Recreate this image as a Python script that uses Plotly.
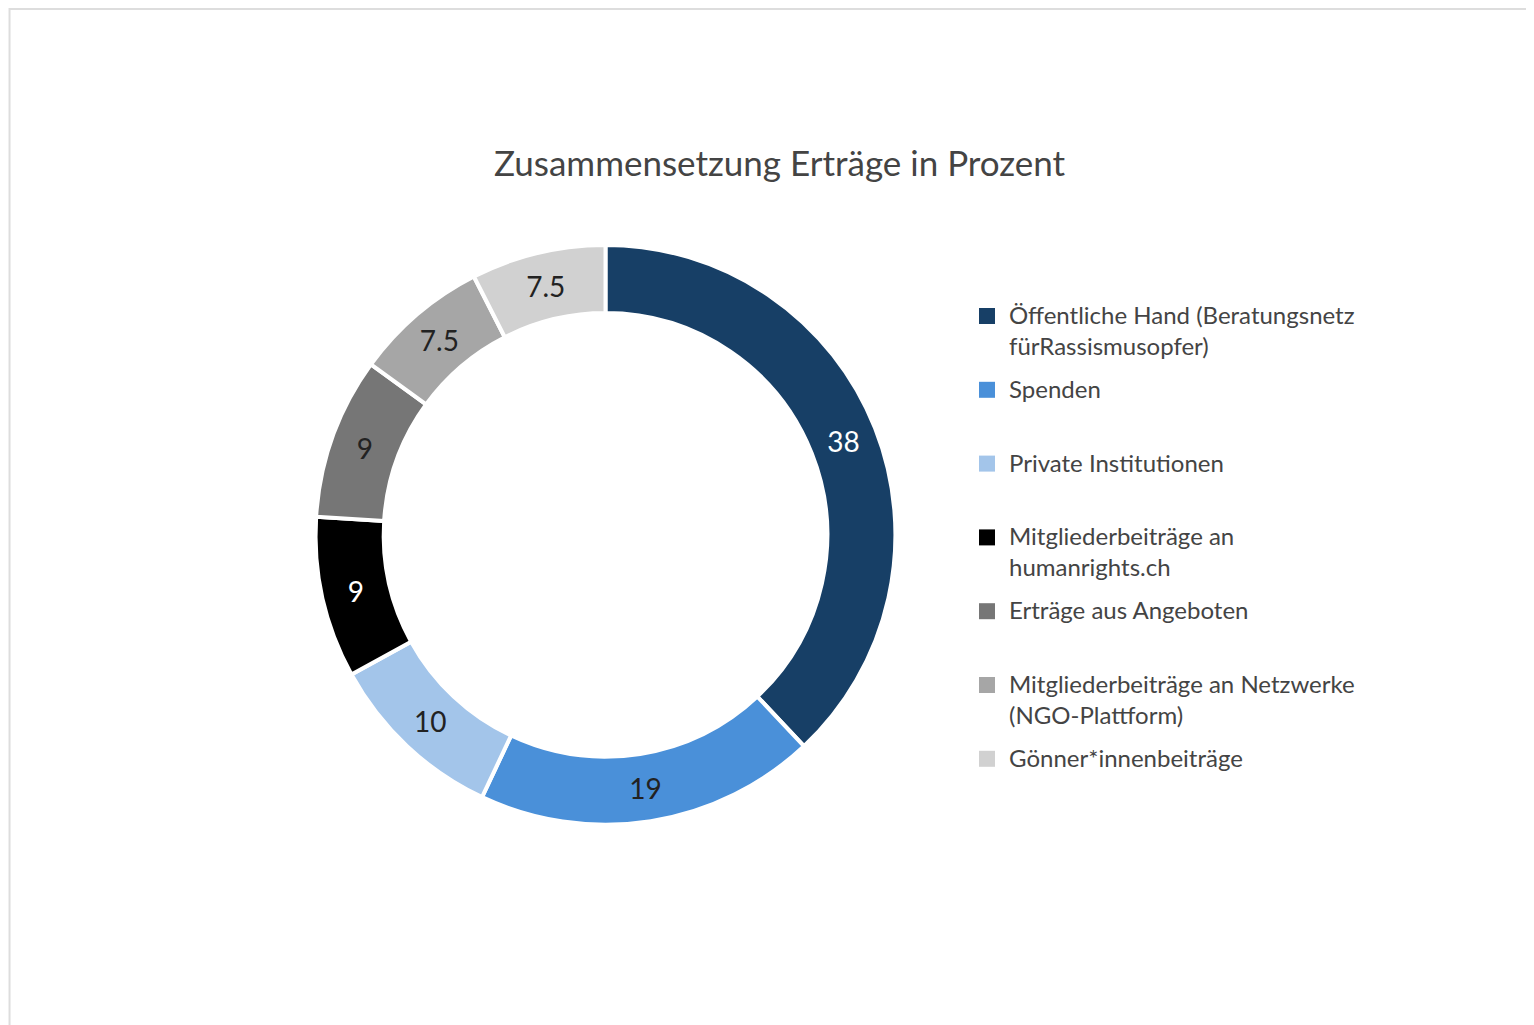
import plotly.graph_objects as go

labels = [
    "Öffentliche Hand (Beratungsnetz<br>fürRassismusopfer)",
    "Spenden",
    "Private Institutionen",
    "Mitgliederbeiträge an<br>humanrights.ch",
    "Erträge aus Angeboten",
    "Mitgliederbeiträge an Netzwerke<br>(NGO-Plattform)",
    "Gönner*innenbeiträge",
]
values = [38, 19, 10, 9, 9, 7.5, 7.5]
colors = ["#173F66", "#4A90D9", "#A3C5EA", "#000000", "#767676", "#A6A6A6", "#D1D1D1"]
text_colors = ["white", "#222222", "#222222", "white", "#222222", "#222222", "#222222"]

W, H = 1534, 1025

fig = go.Figure(
    go.Pie(
        labels=labels,
        values=values,
        hole=0.765,
        sort=False,
        direction="clockwise",
        rotation=0,
        marker=dict(colors=colors, line=dict(color="white", width=4)),
        textinfo="value",
        textposition="inside",
        insidetextorientation="horizontal",
        textfont=dict(size=28, color=text_colors, family="Lato"),
        domain=dict(x=[0.2005, 0.5785], y=[0.203, 0.769]),
        showlegend=False,
    )
)

# hand-built legend: every entry takes two line slots, like the reference
annotations = []
shapes = [
    dict(type="rect", xref="paper", yref="paper", x0=0.001, y0=0.001, x1=0.999, y1=0.999,
         line=dict(color="#DDDDDD", width=2))
]
line_step = 36.9
for i, (lab, col) in enumerate(zip(labels, colors)):
    y_px = 308 + line_step * 2 * i
    y_px = min(y_px, 752) if i == 6 else y_px
    y = 1 - y_px / H
    shapes.append(dict(type="rect", xref="paper", yref="paper",
                       x0=971 / W, x1=987 / W, y0=y - 8 / H, y1=y + 8 / H,
                       fillcolor=col, line=dict(width=0)))
    annotations.append(dict(text=lab, xref="paper", yref="paper", x=999 / W, y=y + 18 / H,
                            xanchor="left", yanchor="top", align="left", showarrow=False,
                            font=dict(size=24, color="#444444")))

fig.update_layout(
    width=W,
    height=H,
    margin=dict(l=0, r=0, t=0, b=0),
    paper_bgcolor="white",
    font=dict(family="Lato", color="#444444"),
    title=dict(
        text="Zusammensetzung Erträge in Prozent",
        x=0.503,
        xanchor="center",
        y=0.848,
        yanchor="middle",
        font=dict(size=35, color="#444444"),
    ),
    annotations=annotations,
    shapes=shapes,
)

fig.write_html("out.html")
